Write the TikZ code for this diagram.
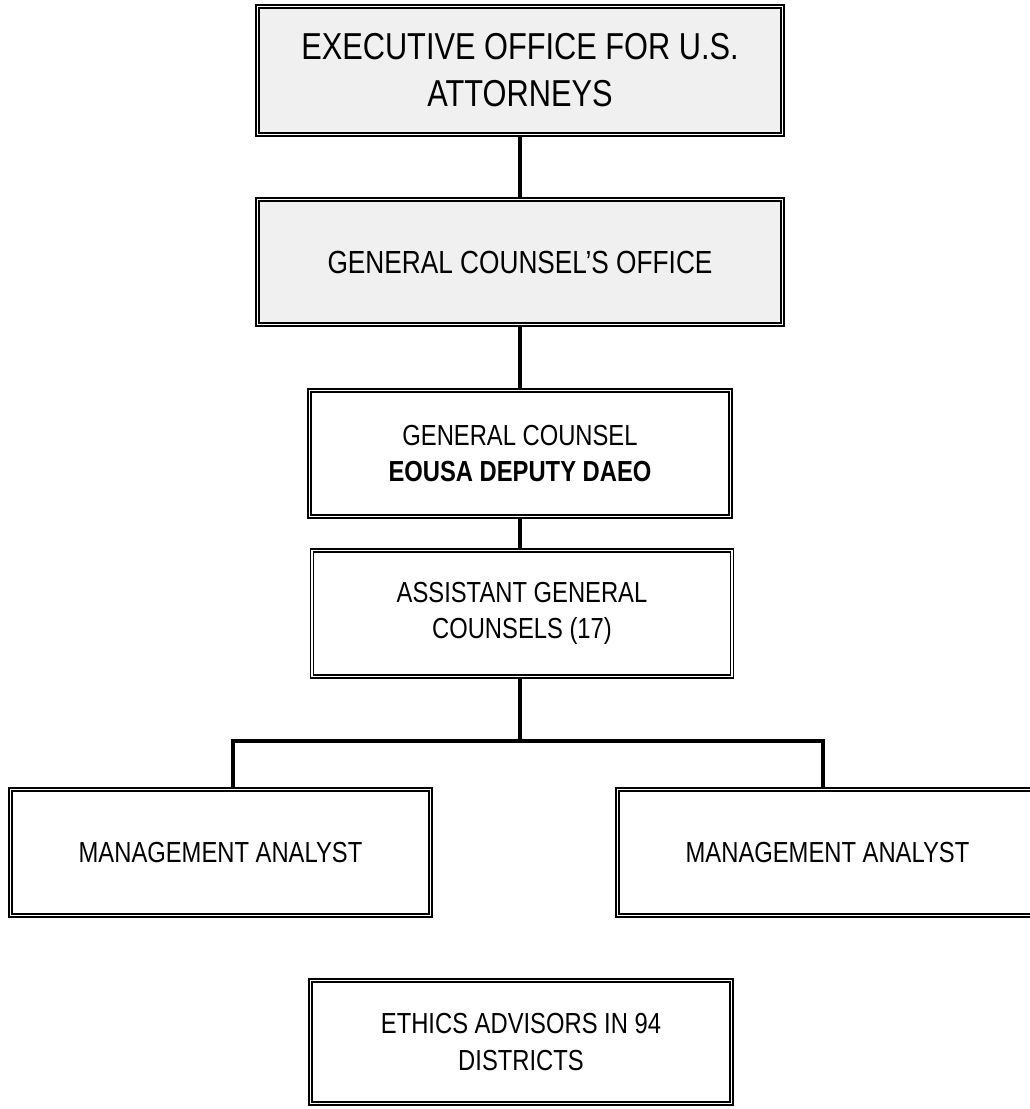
\documentclass[tikz,border=0pt]{standalone}
\usepackage{fontspec}
\setmainfont[FakeStretch=0.82]{Liberation Sans}
\definecolor{boxgrey}{HTML}{F0F0F0}
\begin{document}
\begin{tikzpicture}[x=1pt,y=-1pt,
  orgbox/.style={draw=black, line width=1.5pt, double=white, double distance=1.7pt,
    inner sep=0pt, align=center, rectangle, font=\fontsize{29}{36.5}\selectfont},
  greybox/.style={orgbox, fill=boxgrey},
  conn/.style={line width=4pt, draw=black}]
\useasboundingbox (0,0) rectangle (1030,1109);
\fill[white] (0,0) rectangle (1030,1109);
\node[greybox, minimum width=525pt, minimum height=128pt, font=\fontsize{37.5}{47}\selectfont] (eo) at (520,70.5) {EXECUTIVE OFFICE FOR U.S.\\ATTORNEYS};
\node[greybox, minimum width=525pt, minimum height=125pt, font=\fontsize{32}{40}\selectfont] (gco) at (520,262) {GENERAL COUNSEL'S OFFICE};
\node[orgbox, minimum width=421pt, minimum height=126pt] (gc) at (520,453.5) {GENERAL COUNSEL\\\textbf{EOUSA DEPUTY DAEO}};
\node[orgbox, minimum width=420pt, minimum height=126pt] (agc) at (522,613.5) {ASSISTANT GENERAL\\COUNSELS (17)};
\node[orgbox, minimum width=420pt, minimum height=126pt] (maL) at (220.5,852.5) {MANAGEMENT ANALYST};
\node[orgbox, minimum width=420pt, minimum height=126pt] (maR) at (827.5,852.5) {MANAGEMENT ANALYST};
\node[orgbox, minimum width=421pt, minimum height=123pt] (eth) at (521,1042) {ETHICS ADVISORS IN 94\\DISTRICTS};
\coordinate (busL) at (233,741);
\coordinate (busR) at (823,741);
\coordinate (busM) at (520,741);
\draw[conn] (eo.south -| busM) -- (gco.north -| busM);
\draw[conn] (gco.south -| busM) -- (gc.north -| busM);
\draw[conn] (gc.south -| busM) -- (agc.north -| busM);
\draw[conn] (agc.south -| busM) -- (busM);
\draw[conn] (busL |- maL.north) -- (busL) -- (busR) -- (busR |- maR.north);
\end{tikzpicture}
\end{document}
